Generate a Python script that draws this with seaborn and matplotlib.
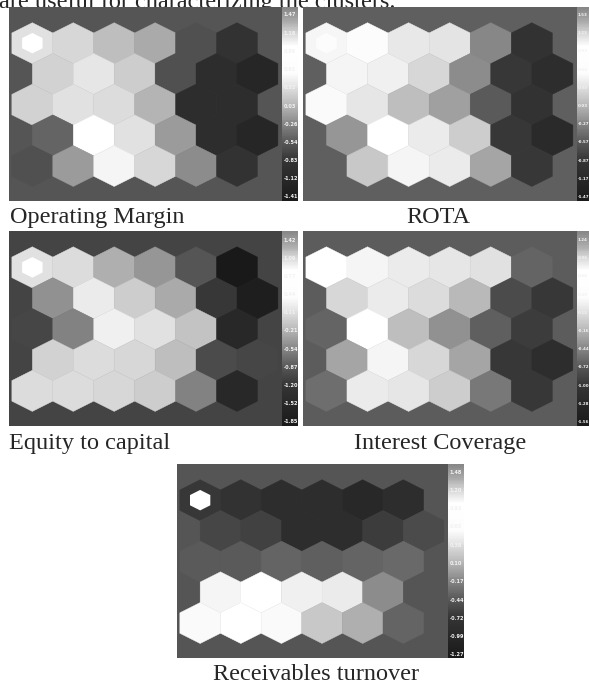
import numpy as np
import matplotlib
matplotlib.use("Agg")
import matplotlib.pyplot as plt
from matplotlib.collections import PolyCollection
from matplotlib.colors import LinearSegmentedColormap
import seaborn as sns

sns.set_style("white")
plt.rcParams["font.family"] = ["Liberation Serif", "DejaVu Serif"]

# gray level (0-255) of every map unit, 5 rows x 6 units, top row first
operating_margin = [
    [225, 215, 190, 170, 80, 50],
    [210, 230, 205, 80, 45, 38],
    [210, 225, 220, 180, 45, 45],
    [100, 255, 225, 155, 45, 38],
    [80, 155, 245, 215, 140, 50],
]
rota = [
    [246, 252, 232, 228, 135, 50],
    [245, 240, 215, 140, 55, 45],
    [250, 230, 190, 160, 90, 50],
    [150, 255, 235, 205, 55, 42],
    [95, 200, 245, 235, 165, 55],
]
equity_to_capital = [
    [225, 220, 175, 150, 85, 25],
    [145, 235, 205, 170, 55, 30],
    [70, 130, 240, 225, 195, 40],
    [210, 220, 215, 190, 75, 70],
    [220, 220, 215, 205, 130, 40],
]
interest_coverage = [
    [255, 245, 235, 230, 225, 100],
    [215, 235, 220, 185, 75, 55],
    [100, 255, 190, 145, 95, 60],
    [165, 245, 215, 165, 55, 45],
    [110, 235, 230, 205, 120, 55],
]
receivables_turnover = [
    [55, 50, 45, 45, 40, 45],
    [70, 65, 45, 45, 60, 75],
    [90, 90, 100, 95, 100, 105],
    [245, 255, 240, 235, 140, 85],
    [250, 255, 250, 200, 175, 100],
]

# colorbar tick labels of each plane
om_ticks = ["1.47", "1.18", "0.89", "0.61", "0.32", "0.03", "-0.26", "-0.54", "-0.83", "-1.12", "-1.41"]
rota_ticks = ["1.53", "1.23", "0.93", "0.63", "0.33", "0.03", "-0.27", "-0.57", "-0.87", "-1.17", "-1.47"]
ec_ticks = ["1.42", "1.09", "0.77", "0.44", "0.11", "-0.21", "-0.54", "-0.87", "-1.20", "-1.52", "-1.85"]
ic_ticks = ["1.24", "0.96", "0.68", "0.40", "0.12", "-0.16", "-0.44", "-0.72", "-1.00", "-1.28", "-1.56"]
rt_ticks = ["1.48", "1.20", "0.93", "0.65", "0.38", "0.10", "-0.17", "-0.44", "-0.72", "-0.99", "-1.27"]

captions = ["Operating Margin", "ROTA", "Equity to capital", "Interest Coverage", "Receivables turnover"]
backgrounds = [85, 95, 68, 92, 85]
marker_levels = [255, 252, 255, None, 255]

W, H = 589, 685
fig = plt.figure(figsize=(W / 100, H / 100), dpi=100)
fig.patch.set_facecolor("white")


def box(x0, y0, x1, y1):
    return [x0 / W, 1 - y1 / H, (x1 - x0) / W, (y1 - y0) / H]


def hexagon(cx, cy, r):
    ang = np.deg2rad(np.arange(30, 390, 60))
    return np.column_stack([cx + r * np.cos(ang), cy + r * np.sin(ang)])


cbar_cmap = LinearSegmentedColormap.from_list("somgray", [
    (0.00, (0.10,) * 3), (0.10, (0.15,) * 3), (0.20, (0.20,) * 3),
    (0.30, (0.34,) * 3), (0.40, (0.53,) * 3), (0.50, (0.73,) * 3),
    (0.60, (0.90,) * 3), (0.66, (0.99,) * 3), (0.80, (1.0,) * 3),
    (0.86, (0.86,) * 3), (0.92, (0.69,) * 3), (1.00, (0.53,) * 3)])

R = 1 / np.sqrt(3)


def draw_plane(ax, grid, bg, marker):
    verts, vals = [], []
    for i, row in enumerate(grid):
        for j, v in enumerate(row):
            cx = j + 0.5 * (i % 2)
            cy = -i * np.sqrt(3) / 2
            verts.append(hexagon(cx, cy, R))
            vals.append(v)
    pc = PolyCollection(verts, array=np.array(vals, float), cmap="gray",
                        norm=plt.Normalize(0, 255), edgecolors="face", linewidths=0.3)
    ax.add_collection(pc)
    if marker is not None:
        ax.add_collection(PolyCollection([hexagon(0, 0, R * 0.5)],
                                         facecolors=str(marker / 255), edgecolors="none"))
    ax.set_xlim(-0.57, 6.1)
    ax.set_ylim(-4.45, 1.02)
    ax.set_facecolor(str(bg / 255))
    ax.set_xticks([])
    ax.set_yticks([])
    for s in ax.spines.values():
        s.set_visible(False)


def draw_cbar(cax, ticks, top_off, step, height, fs):
    sns.heatmap(np.linspace(1, 0, 200)[:, None], cmap=cbar_cmap, vmin=0, vmax=1,
                cbar=False, ax=cax, xticklabels=False, yticklabels=False)
    for k, t in enumerate(ticks):
        frac = 1 - (top_off + k * step) / height
        cax.text(0.08, frac, t, transform=cax.transAxes, fontsize=fs,
                 fontweight="bold", color="#f2f2f2", va="center", ha="left",
                 family="DejaVu Sans")


# (values, labels, map box in px, colorbar right edge, label offset, label step, label size)
panels = [
    (operating_margin, om_ticks, (9, 7, 282, 201), 298, 8, 18.2, 3.6),
    (rota, rota_ticks, (303, 7, 577, 201), 589, 8, 18.2, 2.9),
    (equity_to_capital, ec_ticks, (9, 231, 282, 426), 298, 9, 18.2, 3.6),
    (interest_coverage, ic_ticks, (303, 231, 577, 426), 589, 9, 18.2, 2.9),
    (receivables_turnover, rt_ticks, (177, 464, 448, 658), 464, 8, 18.3, 3.6),
]

for n, (grid, ticks, (x0, y0, x1, y1), cx1, top_off, step, fs) in enumerate(panels):
    ax = fig.add_axes(box(x0, y0, x1, y1))
    draw_plane(ax, grid, backgrounds[n], marker_levels[n])
    cax = fig.add_axes(box(x1, y0, cx1, y1))
    draw_cbar(cax, ticks, top_off, step, y1 - y0, fs)

# cut-off line of body text above the figure
fig.text(-1 / W, 1 - 8 / H, "are useful for characterizing the clusters.",
         fontsize=17.5, va="baseline", ha="left", zorder=-1)

caption_pos = [(10, 223, "left"), (438, 223, "center"), (9, 449, "left"),
               (440, 449, "center"), (316, 680, "center")]
for (cx, cy, ha), text in zip(caption_pos, captions):
    fig.text(cx / W, 1 - cy / H, text, fontsize=17.5, va="baseline", ha=ha)

fig.savefig("out.png", dpi=100, facecolor="white")
